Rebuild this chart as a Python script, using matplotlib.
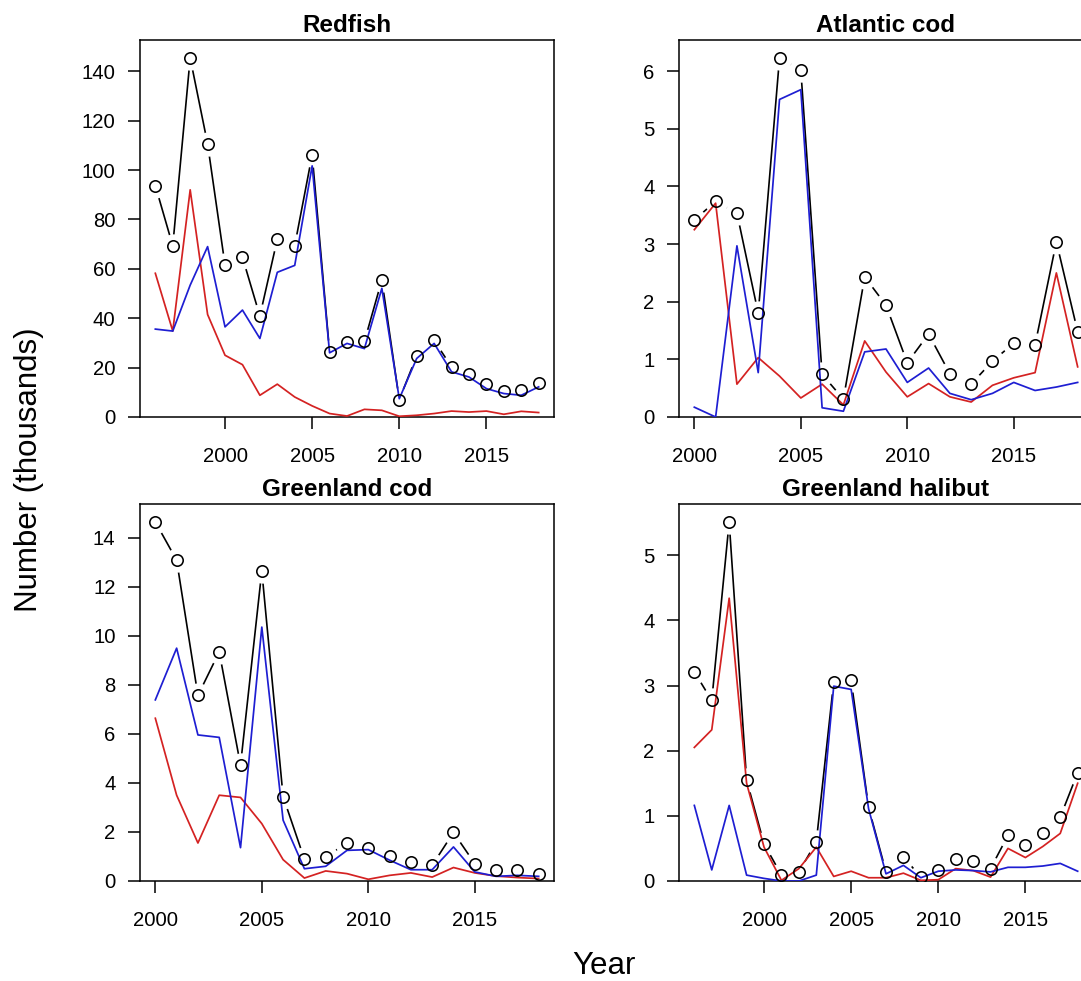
import numpy as np
import matplotlib
matplotlib.use("Agg")
import matplotlib.pyplot as plt

plt.rcParams['font.family'] = ['Liberation Sans', 'DejaVu Sans']

# ---------------- data ----------------
years_a = list(range(1996, 2019))   # Redfish, Greenland halibut
years_b = list(range(2000, 2019))   # Atlantic cod, Greenland cod

redfish_total = [93.7, 69.3, 145.4, 110.6, 61.5, 64.7, 40.9, 72.0, 69.4, 106.2, 26.4, 30.4,
                 30.6, 55.5, 7.0, 24.8, 31.0, 20.3, 17.3, 13.3, 10.4, 10.8, 13.9]
redfish_blue = [35.6, 34.8, 53.4, 69.0, 36.5, 43.3, 31.8, 58.6, 61.4, 101.7, 26.0, 29.8,
                27.7, 52.1, 7.4, 23.7, 29.8, 18.3, 16.2, 11.5, 9.5, 8.8, 12.2]
redfish_red = [58.2, 34.8, 92.0, 41.5, 25.0, 21.2, 8.8, 13.3, 8.1, 4.5, 1.4, 0.4,
               3.1, 2.7, 0.3, 0.7, 1.4, 2.4, 2.0, 2.4, 1.1, 2.3, 1.8]

atlcod_total = [3.42, 3.74, 3.54, 1.80, 6.23, 6.02, 0.74, 0.31, 2.43, 1.94, 0.94, 1.44,
                0.75, 0.57, 0.97, 1.28, 1.25, 3.04, 1.48]
atlcod_blue = [0.17, 0.00, 2.97, 0.77, 5.51, 5.68, 0.16, 0.10, 1.13, 1.18, 0.60, 0.85,
               0.41, 0.30, 0.41, 0.60, 0.46, 0.52, 0.60]
atlcod_red = [3.25, 3.71, 0.57, 1.03, 0.71, 0.33, 0.57, 0.21, 1.32, 0.78, 0.35, 0.58,
              0.35, 0.26, 0.55, 0.68, 0.77, 2.50, 0.87]

grcod_total = [14.65, 13.09, 7.57, 9.35, 4.73, 12.65, 3.44, 0.89, 0.98, 1.55, 1.36, 1.02,
               0.78, 0.64, 1.98, 0.71, 0.44, 0.44, 0.30]
grcod_blue = [7.39, 9.50, 5.96, 5.86, 1.36, 10.36, 2.48, 0.50, 0.60, 1.25, 1.28, 0.85,
              0.46, 0.46, 1.39, 0.37, 0.19, 0.23, 0.19]
grcod_red = [6.64, 3.50, 1.55, 3.50, 3.41, 2.34, 0.87, 0.12, 0.41, 0.30, 0.07, 0.23,
             0.33, 0.16, 0.55, 0.33, 0.20, 0.14, 0.10]

halibut_total = [3.21, 2.77, 5.51, 1.55, 0.57, 0.09, 0.14, 0.60, 3.06, 3.08, 1.13, 0.14,
                 0.37, 0.06, 0.17, 0.34, 0.31, 0.19, 0.70, 0.56, 0.74, 0.98, 1.66]
halibut_blue = [1.16, 0.17, 1.16, 0.09, 0.04, 0.00, 0.00, 0.09, 2.99, 2.94, 1.11, 0.11,
                0.24, 0.05, 0.15, 0.17, 0.16, 0.14, 0.21, 0.21, 0.23, 0.27, 0.15]
halibut_red = [2.05, 2.32, 4.34, 1.50, 0.52, 0.01, 0.19, 0.52, 0.07, 0.15, 0.05, 0.05,
               0.12, 0.01, 0.02, 0.19, 0.16, 0.06, 0.50, 0.36, 0.53, 0.73, 1.50]

titles = ["Redfish", "Atlantic cod", "Greenland cod", "Greenland halibut"]
yticks = [np.arange(0, 141, 20), np.arange(0, 7, 1), np.arange(0, 15, 2), np.arange(0, 6, 1)]
xticks = [2000, 2005, 2010, 2015]

panels = [
    (years_a, redfish_total, redfish_blue, redfish_red),
    (years_b, atlcod_total, atlcod_blue, atlcod_red),
    (years_b, grcod_total, grcod_blue, grcod_red),
    (years_a, halibut_total, halibut_blue, halibut_red),
]

# ---------------- figure ----------------
W, H = 1081, 981
fig = plt.figure(figsize=(W / 100, H / 100), dpi=100)

def px_rect(left, top, right, bottom):
    return [left / W, 1 - bottom / H, (right - left) / W, (bottom - top) / H]

rects = [
    px_rect(140, 40, 554, 417),
    px_rect(679, 40, 1093, 417),
    px_rect(140, 504, 554, 881),
    px_rect(679, 504, 1093, 881),
]

RED = '#d42222'
BLUE = '#1e1ed2'

for rect, title, yt, (yrs, tot, blue, red) in zip(rects, titles, yticks, panels):
    ax = fig.add_axes(rect)
    # black "type b" line: line, white halo to create gaps, open circles
    ax.plot(yrs, tot, color='black', lw=1.2, zorder=1, solid_capstyle='butt')
    ax.plot(yrs, tot, ls='none', marker='o', ms=17.5, mfc='white', mec='none', zorder=1.5)
    ax.plot(yrs, tot, ls='none', marker='o', ms=8.2, mfc='none', mec='black', mew=1.15, zorder=3)
    ax.plot(yrs, red, color=RED, lw=1.25, zorder=2.8)
    ax.plot(yrs, blue, color=BLUE, lw=1.25, zorder=2.9)

    span = yrs[-1] - yrs[0]
    ax.set_xlim(yrs[0] - 0.04 * span, yrs[-1] + 0.04 * span)
    ax.set_ylim(0, max(tot) * 1.05)
    ax.set_xticks(xticks)
    ax.set_yticks(yt)
    ax.set_yticklabels([str(int(v)) for v in yt])
    ax.tick_params(axis='both', direction='out', length=8.6, width=1.1, labelsize=14.6,
                   color='black', labelcolor='black')
    ax.tick_params(axis='x', pad=13)
    ax.tick_params(axis='y', pad=9)
    for s in ax.spines.values():
        s.set_linewidth(1.1)
        s.set_zorder(2.5)
    ax.set_title(title, fontsize=17.5, fontweight='bold', pad=5.5)

fig.text(29 / W, 1 - 470 / H, "Number (thousands)", rotation=90, ha='center', va='center',
         fontsize=22.5)
fig.text(604 / W, 1 - 966 / H, "Year", ha='center', va='center', fontsize=22.5)

fig.savefig("out.png", dpi=100)
